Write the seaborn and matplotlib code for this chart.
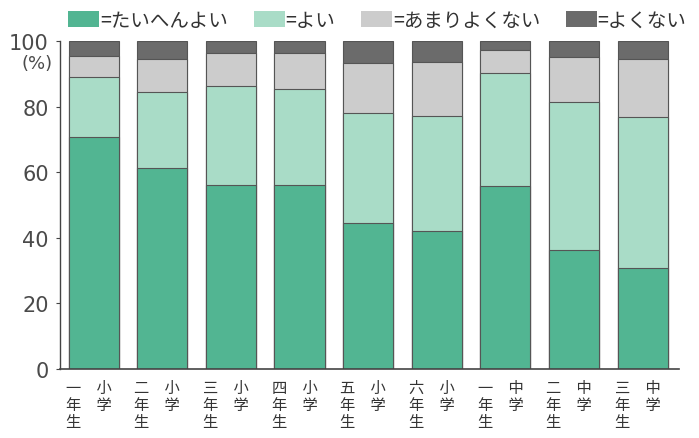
import matplotlib
matplotlib.use("Agg")
import matplotlib.pyplot as plt
import matplotlib.transforms as mtransforms
from matplotlib.patches import Patch
import seaborn as sns
import numpy as np

# data (percent)
grades = ["小学一年生", "小学二年生", "小学三年生", "小学四年生", "小学五年生",
          "小学六年生", "中学一年生", "中学二年生", "中学三年生"]
tick_labels = ["一　小\n年　学\n生　　", "二　小\n年　学\n生　　", "三　小\n年　学\n生　　",
               "四　小\n年　学\n生　　", "五　小\n年　学\n生　　", "六　小\n年　学\n生　　",
               "一　中\n年　学\n生　　", "二　中\n年　学\n生　　", "三　中\n年　学\n生　　"]
very_good = [70.6, 61.3, 56.2, 56.2, 44.5, 42.2, 55.9, 36.4, 30.7]
good = [18.5, 23.0, 30.0, 29.1, 33.4, 34.8, 34.2, 44.9, 46.0]
not_so_good = [6.4, 10.2, 10.1, 11.0, 15.3, 16.5, 7.2, 13.9, 17.8]
not_good = [4.5, 5.5, 3.7, 3.7, 6.8, 6.5, 2.7, 4.8, 5.5]

series_names = ["=たいへんよい", "=よい", "=あまりよくない", "=よくない"]
colors = ["#52b592", "#a9dcc7", "#cccccc", "#6b6b6b"]

sns.set_theme(style="white")
plt.rcParams["font.family"] = ["Noto Sans CJK JP", "DejaVu Sans"]

fig = plt.figure(figsize=(6.99, 4.39), dpi=100)
ax = fig.add_axes([60 / 699, 1 - 370 / 439, 619 / 699, 328 / 439])

# stacked bars: draw cumulative totals from the top layer down
layers = np.array([very_good, good, not_so_good, not_good])
cum = np.cumsum(layers, axis=0)
for k in range(3, -1, -1):
    sns.barplot(x=grades, y=cum[k], color=colors[k], width=0.73, saturation=1,
                edgecolor="#555555", linewidth=0.8, ax=ax)

ax.set_xlim(-0.49, 8.53)
ax.set_ylim(0, 100)
ax.set_yticks([0, 20, 40, 60, 80, 100])
ax.set_xlabel("")
ax.set_ylabel("")

for side in ["top", "right"]:
    ax.spines[side].set_visible(False)
ax.spines["left"].set_color("#444444")
ax.spines["bottom"].set_color("#444444")
ax.spines["left"].set_linewidth(1.0)
ax.spines["bottom"].set_linewidth(1.2)

ax.tick_params(axis="y", direction="out", length=3, width=0.8, color="#444444",
               labelsize=15, pad=5, labelcolor="#4a4a4a", left=True)
for lab in ax.get_yticklabels():
    lab.set_family(["DejaVu Sans"])
ax.tick_params(axis="x", length=0, pad=7)
ax.set_xticks(range(len(grades)))
ax.set_xticklabels(tick_labels, fontsize=11, linespacing=1.0, color="#333333")
shift = mtransforms.ScaledTranslation(-5 / 100, 0, fig.dpi_scale_trans)
for lab in ax.get_xticklabels():
    lab.set_transform(lab.get_transform() + shift)

ax.text(-0.012, 93.4, "(%)", transform=ax.get_yaxis_transform(), ha="right", va="center",
        fontsize=13, color="#4a4a4a", family=["DejaVu Sans"])

handles = [Patch(facecolor=c, edgecolor="none") for c in colors]
fig.legend(handles, series_names, loc="center", bbox_to_anchor=(0.540, 0.952), ncol=4,
           frameon=False, fontsize=14, handlelength=1.6, handleheight=0.85,
           handletextpad=0.05, columnspacing=1.3, labelcolor="#333333")

fig.savefig("out.png", dpi=100)
